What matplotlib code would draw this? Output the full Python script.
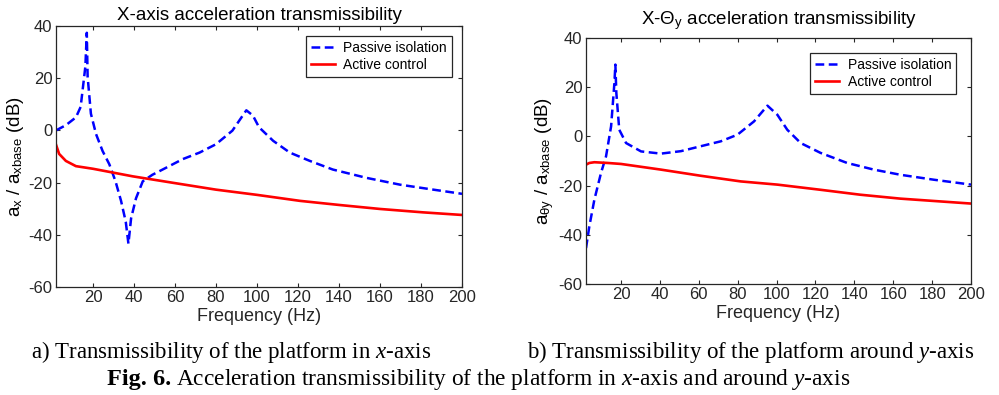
import matplotlib.pyplot as plt

# x-axis transmissibility (left panel)
freq_px = [2, 6.8, 11.7, 14, 16.3, 17, 17.4, 19, 21.5, 24.7, 28, 31, 33.7, 36, 37.3,
           38.6, 41, 44.3, 49, 55.7, 63.8, 72, 80, 88, 94.8, 98, 101, 107.9, 116,
           125.8, 137, 153.5, 169.8, 186, 200]
passive_x = [0, 2, 5, 9, 24.5, 37.4, 20.6, 6.4, -1.4, -7.9, -13, -19.5, -27, -35, -43.4,
             -33.7, -26, -19.5, -17, -14.3, -11, -8.5, -5.3, -0.1, 7.7, 5.7, 1.2, -4, -8.5,
             -11.7, -15, -18.2, -20.8, -22.7, -24.3]
freq_ax = [2, 3.5, 6.8, 11.7, 20, 39.4, 60, 80, 100, 121, 140.5, 160, 181, 200]
active_x = [-5.5, -9, -11.7, -13.7, -14.7, -17.6, -20.2, -22.7, -24.7, -27, -28.6,
            -30.1, -31.4, -32.4]

# rotation about y transmissibility (right panel)
freq_py = [2, 3.7, 6.3, 9.7, 12.3, 14.9, 16.6, 17.1, 17.6, 19.1, 22.6, 30.3, 40.5, 50.8,
           61, 71.3, 79.9, 88.4, 95.3, 100.4, 105.5, 112.4, 122.6, 136.3, 150, 163.7,
           180.8, 200]
passive_y = [-45.4, -36.6, -25.7, -14.9, -8.1, 4.1, 21.7, 29.2, 17.6, 2.7, -2.7, -6.1, -7,
             -6, -4, -2, 0.7, 6.1, 12.5, 8.8, 2.7, -2.7, -6.7, -10.8, -13.5, -15.6,
             -17.6, -19.6]
freq_ay = [2, 3.7, 6.3, 13.2, 20, 40.5, 61, 81.6, 100.4, 122.6, 143, 163.7, 200]
active_y = [-11.5, -10.8, -10.5, -10.8, -11.2, -13.5, -16, -18.3, -19.6, -21.7, -23.7,
            -25.3, -27.3]

xticks = [20, 40, 60, 80, 100, 120, 140, 160, 180, 200]
yticks = [-60, -40, -20, 0, 20, 40]

plt.rcParams['font.family'] = ['Liberation Sans', 'DejaVu Sans']
plt.rcParams['axes.unicode_minus'] = False
plt.rcParams['mathtext.fontset'] = 'custom'
plt.rcParams['mathtext.rm'] = 'Liberation Sans'
plt.rcParams['mathtext.it'] = 'Liberation Serif:italic'

dark = '#262626'
fig = plt.figure(figsize=(9.99, 3.95), dpi=100)
ax1 = fig.add_axes([0.0561, 0.2734, 0.4064, 0.6608])
ax2 = fig.add_axes([0.5866, 0.281, 0.3854, 0.6228])

panels = [
    (ax1, freq_px, passive_x, freq_ax, active_x, 'X-axis acceleration transmissibility',
     r'a$_{\mathregular{x}}$ / a$_{\mathregular{xbase}}$ (dB)', 4, (0.975, 0.962)),
    (ax2, freq_py, passive_y, freq_ay, active_y,
     r'X-Θ$_{\mathregular{y}}$ acceleration transmissibility',
     r'a$_{\mathregular{θy}}$ / a$_{\mathregular{xbase}}$ (dB)', 10, (0.961, 0.939)),
]

for ax, fp, p, fa, a, title, ylabel, tpad, lpos in panels:
    ax.plot(fp, p, color='blue', ls=(0, (3.5, 1.8)), lw=1.8, label='Passive isolation')
    ax.plot(fa, a, color='red', lw=1.9, label='Active control')
    ax.set_xlim(2, 200)
    ax.set_ylim(-60, 40)
    ax.set_xticks(xticks)
    ax.set_yticks(yticks)
    ax.tick_params(direction='in', top=True, right=True, labelsize=12, length=3,
                   width=0.8, pad=2.5, colors=dark)
    ax.set_title(title, fontsize=13.5, pad=tpad, color='black')
    ax.set_xlabel('Frequency (Hz)', fontsize=13, labelpad=2, color=dark)
    ax.set_ylabel(ylabel, fontsize=13.5, labelpad=2, color='black')
    for s in ax.spines.values():
        s.set_linewidth(0.9)
        s.set_color(dark)
    leg = ax.legend(loc='upper right', bbox_to_anchor=lpos, fontsize=10, fancybox=False,
                    framealpha=1, edgecolor=dark, borderpad=0.35, handlelength=1.75,
                    handletextpad=0.6, labelspacing=0.25, borderaxespad=0)
    leg.get_frame().set_linewidth(0.9)

serif = ['Liberation Serif', 'DejaVu Serif']
fig.text(0.231, 1 - 358 / 395, r'a) Transmissibility of the platform in $x$-axis',
         ha='center', va='baseline', fontsize=16.5, family=serif)
fig.text(0.751, 1 - 358 / 395, r'b) Transmissibility of the platform around $y$-axis',
         ha='center', va='baseline', fontsize=16.5, family=serif)

# bold figure number, then the rest of the caption right after it
fig_num = fig.text(0.107, 1 - 385 / 395, 'Fig. 6.', ha='left', va='baseline',
                   fontsize=17.5, family=serif, weight='bold')
fig.canvas.draw()
bb = fig_num.get_window_extent()
fig.text((bb.x1 + 5) / fig.bbox.width, 1 - 385 / 395,
         r'Acceleration transmissibility of the platform in $x$-axis and around $y$-axis',
         ha='left', va='baseline', fontsize=16.8, family=serif)

fig.savefig('out.png', dpi=100)
